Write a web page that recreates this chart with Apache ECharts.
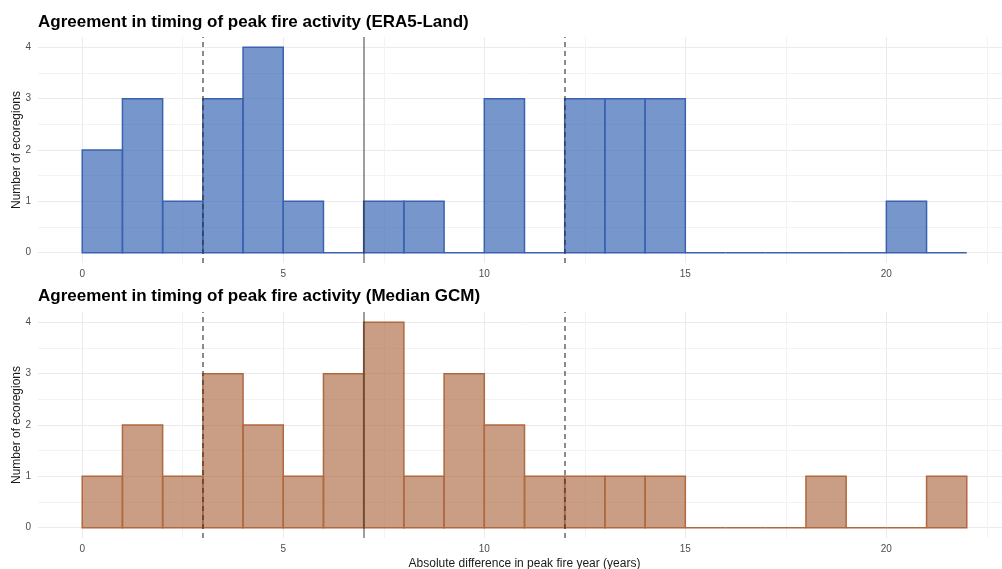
<!DOCTYPE html>
<html>
<head>
<meta charset="utf-8">
<script src="https://cdn.jsdelivr.net/npm/echarts@6/dist/echarts.min.js"></script>
<style>
  html, body { margin: 0; padding: 0; background: #fff; }
  #chart { width: 1002px; height: 569px; }
</style>
</head>
<body>
<div id="chart"></div>
<script>
// histogram bins (width 1 year)
var binStart = [0, 1, 2, 3, 4, 5, 6, 7, 8, 9, 10, 11, 12, 13, 14, 15, 16, 17, 18, 19, 20, 21];
var era5Counts = [2, 3, 1, 3, 4, 1, 0, 1, 1, 0, 3, 0, 3, 3, 3, 0, 0, 0, 0, 0, 1, 0];
var gcmCounts = [1, 2, 1, 3, 2, 1, 3, 4, 1, 3, 2, 1, 1, 1, 1, 0, 0, 0, 1, 0, 0, 1];
var xTicks = [0, 5, 10, 15, 20];
var xMinor = [2.5, 7.5, 12.5, 17.5, 22.5];
var yTicks = [0, 1, 2, 3, 4];
var yMinor = [0.5, 1.5, 2.5, 3.5];
var dashedAt = [3, 12];
var solidAt = [7];

var titles = ['Agreement in timing of peak fire activity (ERA5-Land)',
              'Agreement in timing of peak fire activity (Median GCM)'];

var font = 'Liberation Sans, Arial, Helvetica, sans-serif';
var chart = echarts.init(document.getElementById('chart'), null, { renderer: 'canvas' });

function binData(counts) {
  var out = [];
  for (var i = 0; i < binStart.length; i++) {
    out.push([binStart[i], binStart[i] + 1, counts[i]]);
  }
  return out;
}

function renderBin(fill, stroke) {
  return function (params, api) {
    var p0 = api.coord([api.value(0), 0]);
    var p1 = api.coord([api.value(1), api.value(2)]);
    return {
      type: 'rect',
      shape: { x: p0[0], y: p1[1], width: p1[0] - p0[0], height: p0[1] - p1[1] },
      style: { fill: fill, stroke: stroke, lineWidth: 1.5 }
    };
  };
}

var vlines = [];
dashedAt.forEach(function (v) {
  vlines.push({ xAxis: v, lineStyle: { type: [5, 4], color: 'rgba(50,50,50,0.75)', width: 1.5 } });
});
solidAt.forEach(function (v) {
  vlines.push({ xAxis: v, lineStyle: { type: 'solid', color: 'rgba(40,40,40,0.45)', width: 2 } });
});

var grids = [
  { left: 38, top: 37, width: 973, height: 226, outerBoundsMode: 'none', containLabel: false },
  { left: 38, top: 312, width: 973, height: 226, outerBoundsMode: 'none', containLabel: false }
];

var xAxes = [], yAxes = [];
for (var g = 0; g < 2; g++) {
  xAxes.push({
    type: 'value', gridIndex: g, min: -1.1, max: 23.1,
    axisLine: { show: false }, axisTick: { show: false, customValues: xTicks },
    axisLabel: { customValues: xTicks, color: '#4d4d4d', fontSize: 10, fontFamily: font, margin: 6 },
    splitLine: { show: true, lineStyle: { color: '#ebebeb', width: 1 } },
    name: g === 1 ? 'Absolute difference in peak fire year (years)' : '',
    nameLocation: 'middle', nameGap: 20, nameMoveOverlap: false,
    nameTextStyle: { color: '#1a1a1a', fontSize: 12, fontFamily: font }
  });
  xAxes.push({
    type: 'value', gridIndex: g, min: -1.1, max: 23.1,
    axisLine: { show: false }, axisTick: { show: false, customValues: xMinor },
    axisLabel: { show: false, customValues: xMinor },
    splitLine: { show: true, lineStyle: { color: '#f3f3f3', width: 1 } }
  });
  yAxes.push({
    type: 'value', gridIndex: g, min: -0.2, max: 4.2,
    axisLine: { show: false }, axisTick: { show: false, customValues: yTicks },
    axisLabel: { customValues: yTicks, color: '#4d4d4d', fontSize: 10, fontFamily: font, margin: 7 },
    splitLine: { show: true, lineStyle: { color: '#ebebeb', width: 1 } },
    name: 'Number of ecoregions', nameLocation: 'middle', nameGap: 15, nameRotate: 90,
    nameMoveOverlap: false,
    nameTextStyle: { color: '#1a1a1a', fontSize: 12, fontFamily: font }
  });
  yAxes.push({
    type: 'value', gridIndex: g, min: -0.2, max: 4.2,
    axisLine: { show: false }, axisTick: { show: false, customValues: yMinor },
    axisLabel: { show: false, customValues: yMinor },
    splitLine: { show: true, lineStyle: { color: '#f3f3f3', width: 1 } }
  });
}

var option = {
  backgroundColor: '#fff',
  animation: false,
  title: [
    { text: titles[0], left: 38, top: 14, padding: 0, textStyle: { fontSize: 17, fontWeight: 'bold', color: '#000', fontFamily: font } },
    { text: titles[1], left: 38, top: 288, padding: 0, textStyle: { fontSize: 17, fontWeight: 'bold', color: '#000', fontFamily: font } }
  ],
  grid: grids,
  xAxis: xAxes,
  yAxis: yAxes,
  series: [
    {
      name: 'ERA5-Land', type: 'custom', xAxisIndex: 0, yAxisIndex: 0,
      renderItem: renderBin('rgba(55,100,180,0.68)', '#3a62b0'),
      data: binData(era5Counts),
      markLine: { silent: true, symbol: 'none', label: { show: false }, data: vlines }
    },
    {
      name: 'Median GCM', type: 'custom', xAxisIndex: 2, yAxisIndex: 2,
      renderItem: renderBin('rgba(172,106,66,0.65)', '#b0683f'),
      data: binData(gcmCounts),
      markLine: { silent: true, symbol: 'none', label: { show: false }, data: vlines }
    }
  ]
};
chart.setOption(option);
</script>
</body>
</html>
